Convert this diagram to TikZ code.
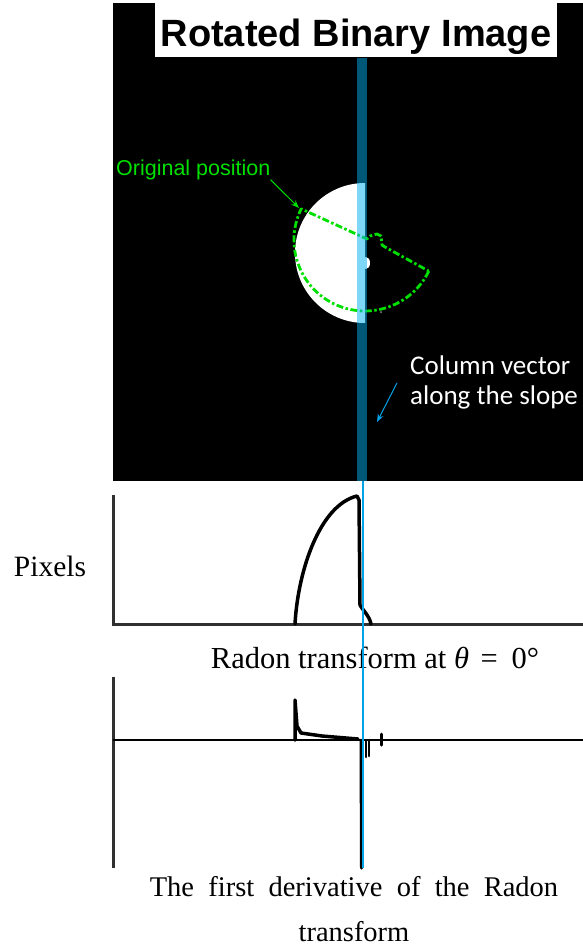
\documentclass[tikz,border=0pt]{standalone}
\usepackage{fontspec}
\setmainfont{Liberation Serif}
\newfontfamily\rbsansfont{Liberation Sans}
\newfontfamily\rbcalfont{Carlito}
\usetikzlibrary{arrows.meta}
\usetikzlibrary{positioning}
\definecolor{rbteal}{HTML}{00B0F0}
\definecolor{rbgreen}{HTML}{00E000}
\definecolor{rbcyan}{HTML}{00A2E8}
\definecolor{rbaxisgray}{HTML}{303030}
\definecolor{rbdot}{HTML}{8A8A8A}
\tikzset{
  rbaxis/.style={draw=rbaxisgray, line width=3pt, line cap=butt},
  rbbase/.style={draw=black, line width=1.5pt},
  rbtrace/.style={draw=black, line width=3.5pt, line join=round, line cap=round},
  rboutline/.style={draw=rbgreen, line width=2.8pt, line join=round,
    dash pattern=on 7pt off 2.5pt on 2.5pt off 2.5pt},
  rbarrow/.style={-{Stealth[length=8pt, width=6pt]}, line width=1pt},
  rbtitle/.style={font=\rbsansfont\bfseries\fontsize{38}{44}\selectfont,
    text=black, inner sep=0pt},
  rbnote/.style={font=\rbsansfont\fontsize{21.5}{25}\selectfont,
    text=rbgreen, inner sep=0pt},
  rbcallout/.style={font=\rbcalfont\fontsize{27}{30}\selectfont,
    text=white, inner sep=0pt, align=left},
  rbcaption/.style={font=\fontsize{29.5}{35}\selectfont, text=black,
    inner sep=0pt},
}

\begin{document}
\begin{tikzpicture}[x=1pt, y=-1pt]
\useasboundingbox (0,0) rectangle (583,951);

% The rotated binary image.
\fill[black] (113,3) rectangle (583,481);
\node[fill=white, minimum width=402pt, minimum height=54pt, inner sep=0pt]
  (titlebox) at (356,30) {};
\node[rbtitle, anchor=base] (title) at (356,46) {Rotated Binary Image};
\fill[white] (365,183) arc[start angle=-90, end angle=-270, radius=70] -- cycle;
\fill[white] (366,263) ellipse[x radius=4, y radius=6];
\fill[rbdot] (381,312) circle (1);

% Original position of the sector.
\draw[rboutline] (428.8,271.1) arc[start angle=26, end angle=206, radius=71]
  -- (367,239) -- (370,236) -- (377,234) -- (381,236) -- (382,245)
  -- (385,247) -- cycle;
\coordinate (orighit) at (299,208);
\node[rbnote, anchor=base west] (origpos) at (116,175) {Original position};
\draw[rbarrow, draw=rbgreen] (origpos.south east) -- (orighit);

% Column vector along the slope.
\fill[rbteal, opacity=0.5] (357,58) rectangle (367,481);
\node[rbcallout, anchor=north west] (colvec) at (410,356)
  {Column vector\\along the slope};
\coordinate (colhit) at (377,422);
\draw[rbarrow, draw=rbcyan] ([xshift=-13pt]colvec.west) -- (colhit);

% Radon transform.
\draw[rbaxis] (113,495) -- (113,624) -- (583,624);
\draw[rbtrace] (295,624) .. controls (298,570) and (320,505) .. (357,496)
  -- (359,500) -- (360,605) .. controls (364,612) and (369,615) .. (371,624);
\node[rbcaption, anchor=base] (pixels) at (50,576) {Pixels};
\node[rbcaption, anchor=base, font=\fontsize{30.5}{35}\selectfont]
  (radon) at (375,668)
  {Radon transform at \textit{θ}\hspace{0.38em}=\hspace{0.45em}0°};

% First derivative.
\draw[rbaxis] (113,677) -- (113,868);
\draw[rbbase] (113,740) -- (583,740);
\draw[rbtrace] (295,740) -- (295,700) -- (297,726) -- (301,733) -- (322,736)
  -- (358,739);
\draw[rbtrace, line width=3pt] (361,740) -- (361.5,868);
\draw[rbtrace, line width=2.5pt] (366,740) -- (366,757);
\draw[rbtrace, line width=2.5pt] (369,740) -- (369,756);
\draw[rbtrace, line width=3pt] (381,734) -- (381,745);
\node[rbcaption, anchor=north, align=center, font=\fontsize{28.5}{45}\selectfont]
  (deriv) at (354,876)
  {\spaceskip=0.5em The first derivative of the Radon\\transform};

% The column through all three panels.
\draw[draw=rbcyan, line width=1.5pt] (363,481) -- (363,868);

\end{tikzpicture}
\end{document}
